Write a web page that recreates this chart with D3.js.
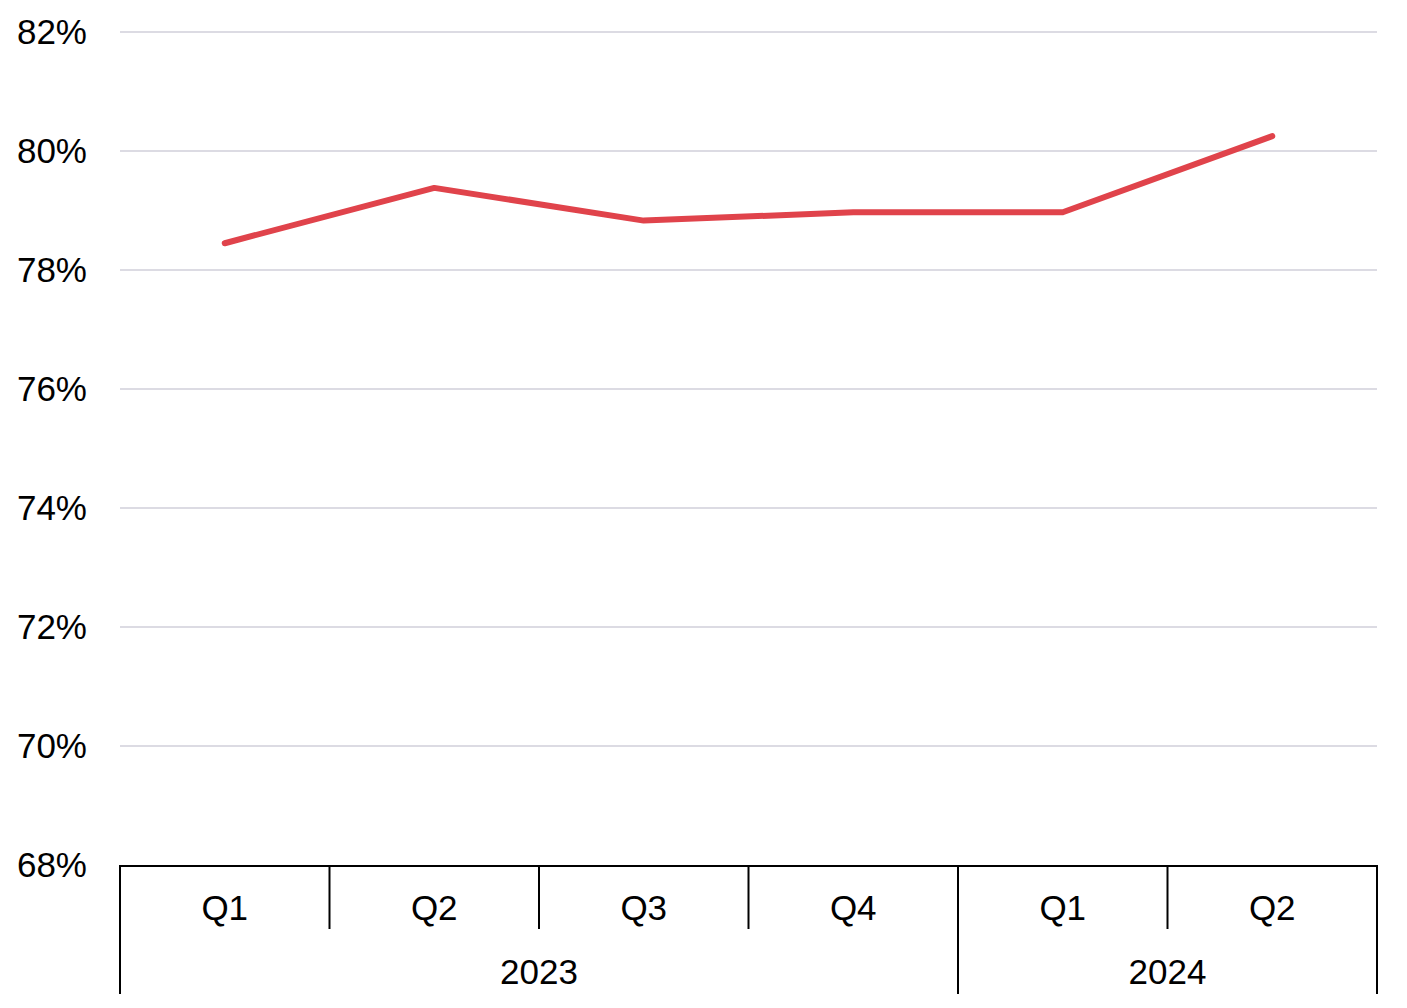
<!DOCTYPE html>
<html>
<head>
<meta charset="utf-8">
<script src="https://cdn.jsdelivr.net/npm/d3@7"></script>
<style>
  html, body { margin: 0; padding: 0; background: #fff; }
  svg { display: block; }
  text { font-family: "Liberation Sans", Arial, sans-serif; fill: #000; }
</style>
</head>
<body>
<svg id="chart" width="1407" height="1008"></svg>
<script>
const quarters = ["Q1", "Q2", "Q3", "Q4", "Q1", "Q2"];
const years = ["2023", "2023", "2023", "2023", "2024", "2024"];
const yearGroups = ["2023", "2024"];
const values = [78.45, 79.38, 78.83, 78.97, 78.97, 80.25];
const yTicks = [68, 70, 72, 74, 76, 78, 80, 82];

(function () {
const svg = d3.select("#chart");
const mLeft = 120, mRight = 1377, mTop = 32, mBottom = 865;
const fontSize = 35;

const x = d3.scaleBand().domain(d3.range(quarters.length)).range([mLeft, mRight]).padding(0);
const y = d3.scaleLinear().domain([68, 82]).range([mBottom, mTop]);

svg.append("g").selectAll("line").data(yTicks.filter(t => t !== 68)).join("line")
  .attr("x1", mLeft).attr("x2", mRight)
  .attr("y1", d => y(d)).attr("y2", d => y(d))
  .attr("stroke", "#dcdbe3").attr("stroke-width", 2);

svg.append("g").selectAll("text").data(yTicks).join("text")
  .attr("x", 87).attr("y", d => y(d) + 12)
  .attr("text-anchor", "end").attr("font-size", fontSize)
  .text(d => d + "%");

const line = d3.line().x((d, i) => x(i) + x.bandwidth() / 2).y(d => y(d));
svg.append("path").datum(values)
  .attr("d", line).attr("fill", "none")
  .attr("stroke", "#e0434b").attr("stroke-width", 6)
  .attr("stroke-linecap", "round").attr("stroke-linejoin", "round");

const ax = svg.append("g");
ax.append("line").attr("x1", mLeft).attr("x2", mRight).attr("y1", mBottom + 1).attr("y2", mBottom + 1)
  .attr("stroke", "#000").attr("stroke-width", 2);

const bounds = d3.range(quarters.length + 1).map(i => i === quarters.length ? mRight : x(i));
bounds.forEach((bx, i) => {
  const isYear = i === 0 || i === quarters.length || years[i] !== years[i - 1];
  ax.append("line").attr("x1", bx).attr("x2", bx)
    .attr("y1", mBottom).attr("y2", isYear ? 994 : 929)
    .attr("stroke", "#000").attr("stroke-width", 2);
});

ax.selectAll("text.q").data(quarters).join("text").attr("class", "q")
  .attr("x", (d, i) => x(i) + x.bandwidth() / 2).attr("y", 920)
  .attr("text-anchor", "middle").attr("font-size", fontSize).text(d => d);

yearGroups.forEach(yr => {
  const idx = years.map((v, i) => v === yr ? i : -1).filter(i => i >= 0);
  const x0 = x(idx[0]), x1 = x(idx[idx.length - 1]) + x.bandwidth();
  ax.append("text").attr("x", (x0 + x1) / 2).attr("y", 984)
    .attr("text-anchor", "middle").attr("font-size", fontSize).text(yr);
});
})();
</script>
</body>
</html>
